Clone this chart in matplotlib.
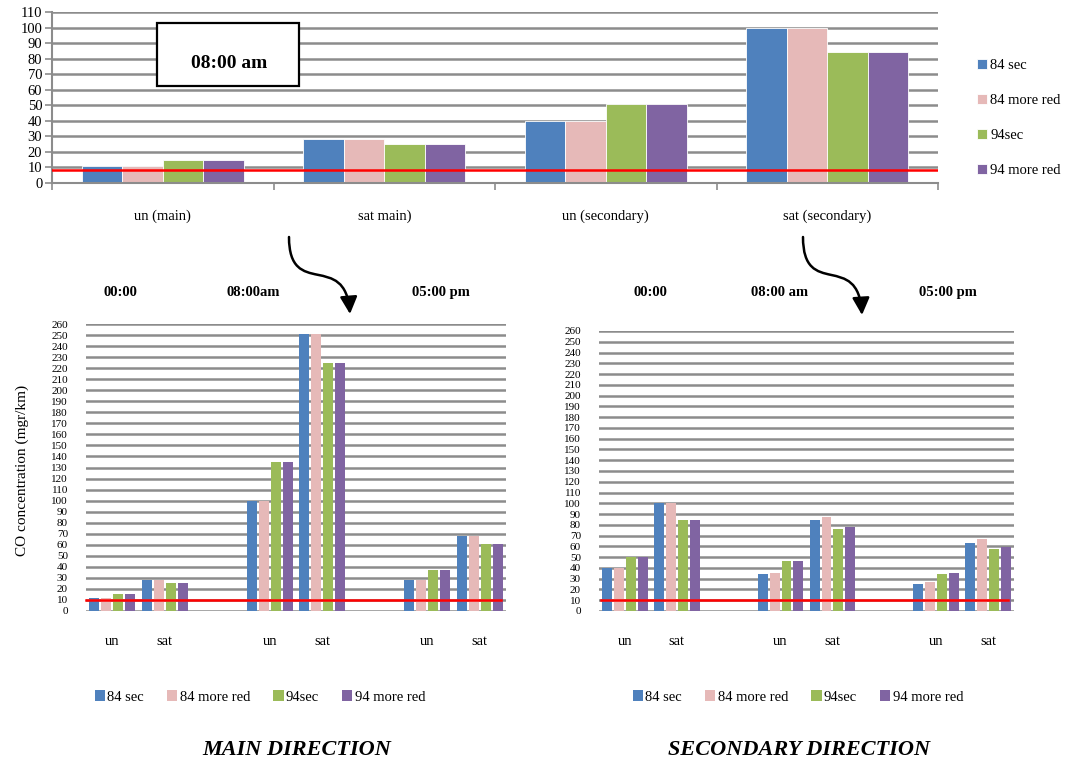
import matplotlib
matplotlib.use("Agg")
import matplotlib.pyplot as plt
import numpy as np
from matplotlib.patches import Rectangle, FancyArrowPatch
from matplotlib.path import Path

plt.rcParams['font.family'] = ['Liberation Serif', 'DejaVu Serif']

# ---------------- datos ----------------
series = ['84 sec', '84 more red', '94sec', '94 more red']
colores = ['#4F81BD', '#E6B9B8', '#9BBB59', '#8064A2']

# grafico de arriba (08:00 am)
top_cats = ['un (main)', 'sat main)', 'un (secondary)', 'sat (secondary)']
top_84sec = [11, 28, 40, 100]
top_84red = [11, 28, 40, 100]
top_94sec = [15, 25, 50.5, 84.5]
top_94red = [15, 25, 50.5, 84.5]
top_limite = 8.5

# graficos de abajo
bot_cats = ['un', 'sat', '', 'un', 'sat', '', 'un', 'sat']
main_84sec = [11.5, 28, 100, 251, 28, 68]
main_84red = [11.5, 28, 100, 251, 28, 68]
main_94sec = [15, 25, 135, 225, 37, 61]
main_94red = [15, 25, 135, 225, 37, 61]
main_limite = 10

sec_84sec = [40, 100, 34, 84.5, 25, 63]
sec_84red = [40, 100, 35, 87, 27, 66.5]
sec_94sec = [50.5, 84.5, 46, 76, 34, 57.5]
sec_94red = [50.5, 84.5, 46, 78, 35, 59.5]
sec_limite = 10.5

horas_main = ['00:00', '08:00am', '05:00 pm']
horas_sec = ['00:00', '08:00 am', '05:00 pm']

GRIS = '#8C8C8C'
W, H = 1076, 764


def fx(px):
    return px / W


def fy(py):
    return 1 - py / H


fig = plt.figure(figsize=(10.76, 7.64), dpi=100)

####################
# grafico superior #
####################
ax = fig.add_axes([fx(52), fy(183), fx(938 - 52), (183 - 12) / H])
x = np.arange(len(top_cats))
paso = 0.183
for i, vals in enumerate([top_84sec, top_84red, top_94sec, top_94red]):
    ax.bar(x + (i - 1.5) * paso, vals, width=paso, color=colores[i],
           edgecolor='white', linewidth=0.6, label=series[i], zorder=2)
ax.axhline(top_limite, color='#FF0000', lw=1.8, zorder=3)
ax.set_xlim(-0.5, len(top_cats) - 0.5)
ax.set_ylim(0, 110)
ax.set_yticks(np.arange(0, 111, 10))
ax.yaxis.grid(True, color=GRIS, lw=1.8, zorder=0)
ax.set_axisbelow(True)
ax.set_xticks(np.arange(-0.5, len(top_cats), 1.0))
ax.set_xticklabels([])
ax.set_xticks(x, minor=True)
ax.set_xticklabels(top_cats, minor=True, fontsize=10.5)
ax.tick_params(axis='x', which='minor', length=0, pad=19)
ax.tick_params(axis='x', which='major', length=5, color=GRIS, width=1.2)
ax.tick_params(axis='y', length=5, color=GRIS, width=1.2, pad=2, labelsize=10.5)
for s in ['top', 'right']:
    ax.spines[s].set_visible(False)
for s in ['left', 'bottom']:
    ax.spines[s].set_color(GRIS)
    ax.spines[s].set_linewidth(1.5)

h, l = ax.get_legend_handles_labels()
fig.legend(h, l, loc='center left', bbox_to_anchor=(fx(964), fy(118)),
           frameon=False, fontsize=10.5, labelspacing=1.5,
           handlelength=0.7, handleheight=0.7, handletextpad=0.2)

# recuadro 08:00 am
fig.patches.append(Rectangle((fx(157), fy(86)), fx(299 - 157), (86 - 23) / H,
                             transform=fig.transFigure, facecolor='white',
                             edgecolor='black', lw=1.6, zorder=5))
fig.text(fx(229), fy(63), '08:00 am', ha='center', va='center',
         fontsize=14, fontweight='bold', zorder=6)


#######################
# graficos inferiores #
#######################
def grafico_abajo(pos, datos, limite, red_x, horas, horas_x, titulo, titulo_x,
                  leg_x, ylabel=None):
    ax = fig.add_axes(pos)
    idx = np.array([i for i, c in enumerate(bot_cats) if c != ''])
    paso = 0.2286
    for i, vals in enumerate(datos):
        ax.bar(idx + (i - 1.5) * paso, vals, width=0.19, color=colores[i],
               label=series[i], zorder=2)
    ax.set_xlim(-0.5, len(bot_cats) - 0.5)
    ax.set_ylim(0, 260)
    ax.set_yticks(np.arange(0, 261, 10))
    ax.yaxis.grid(True, color=GRIS, lw=1.8, zorder=0)
    ax.set_axisbelow(True)
    ax.set_xticks(np.arange(len(bot_cats)))
    ax.set_xticklabels(bot_cats, fontsize=10.5)
    ax.tick_params(axis='x', length=0, pad=17)
    ax.tick_params(axis='y', length=0, pad=13, labelsize=8)
    for s in ax.spines.values():
        s.set_visible(False)
    # linea limite (en pixeles de la figura -> datos)
    x0, x1 = ax.get_xlim()
    xa = (red_x[0] - pos[0] * W) / (pos[2] * W) * (x1 - x0) + x0
    xb = (red_x[1] - pos[0] * W) / (pos[2] * W) * (x1 - x0) + x0
    ax.plot([xa, xb], [limite, limite], color='#FF0000', lw=1.8, zorder=3,
            clip_on=False)
    ax.set_xlim(x0, x1)
    if ylabel:
        fig.text(fx(22), fy(470), ylabel, rotation=90, ha='center',
                 va='center', fontsize=11)
    for t, px in zip(horas, horas_x):
        fig.text(fx(px), fy(293), t, ha='center', va='center',
                 fontsize=10.5, fontweight='bold')
    h, l = ax.get_legend_handles_labels()
    fig.legend(h, l, loc='center', bbox_to_anchor=(fx(leg_x), fy(697)),
               ncol=4, frameon=False, fontsize=10.5, columnspacing=1.6,
               handlelength=0.7, handleheight=0.7, handletextpad=0.15)
    fig.text(fx(titulo_x), fy(750), titulo, ha='center', va='center',
             fontsize=16, fontweight='bold', fontstyle='italic')
    return ax


grafico_abajo([fx(86), fy(611), fx(420), (611 - 324) / H],
              [main_84sec, main_84red, main_94sec, main_94red], main_limite,
              (86, 501), horas_main, (120, 253, 441), 'MAIN DIRECTION', 297,
              260, ylabel='CO concentration (mgr/km)')
grafico_abajo([fx(599), fy(611), fx(415), (611 - 331) / H],
              [sec_84sec, sec_84red, sec_94sec, sec_94red], sec_limite,
              (601, 1008), horas_sec, (650, 780, 948), 'SECONDARY DIRECTION',
              799, 798)


# flechas curvas
def flecha(p0, p1, p2, p3):
    verts = [(fx(a), fy(b)) for a, b in (p0, p1, p2, p3)]
    path = Path(verts, [Path.MOVETO, Path.CURVE4, Path.CURVE4, Path.CURVE4])
    fa = FancyArrowPatch(path=path, arrowstyle='-|>', mutation_scale=26,
                         lw=1.8, color='black', transform=fig.transFigure)
    fig.patches.append(fa)


flecha((289, 237), (289, 300), (345, 250), (350, 314))
flecha((803, 237), (803, 300), (858, 250), (862, 315))

fig.savefig('out.png', dpi=100)
